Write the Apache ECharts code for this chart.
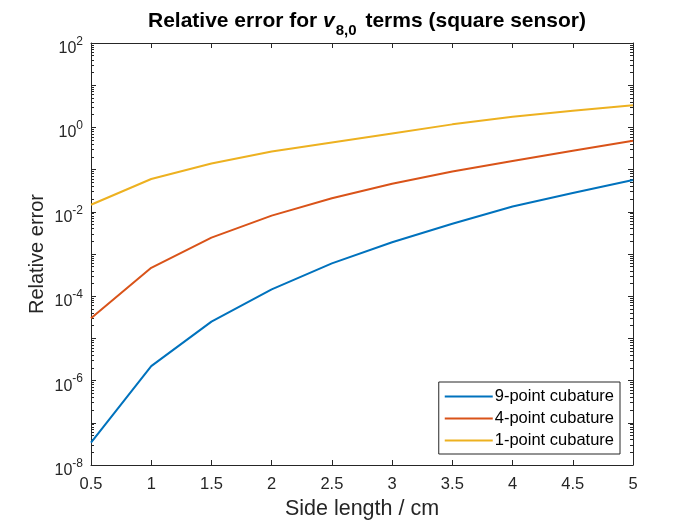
<!DOCTYPE html>
<html>
<head>
<meta charset="utf-8">
<script src="https://cdn.jsdelivr.net/npm/echarts@6/dist/echarts.min.js"></script>
<style>
html,body{margin:0;padding:0;background:#fff;}
#chart{width:700px;height:525px;}
</style>
</head>
<body>
<div id="chart"></div>
<script>
// side length (cm)
var sideLength = [0.5, 1, 1.5, 2, 2.5, 3, 3.5, 4, 4.5, 5];
var seriesNames = ['9-point cubature', '4-point cubature', '1-point cubature'];
// relative error
var err9 = [3.4e-8, 2.2e-6, 2.5e-5, 1.45e-4, 6.0e-4, 1.9e-3, 5.2e-3, 1.34e-2, 2.8e-2, 5.7e-2];
var err4 = [3.0e-5, 4.7e-4, 2.45e-3, 8.1e-3, 2.1e-2, 4.6e-2, 9.0e-2, 0.16, 0.28, 0.48];
var err1 = [1.47e-2, 6.0e-2, 0.14, 0.27, 0.44, 0.72, 1.18, 1.78, 2.47, 3.35];
var xTicks = [0.5, 1, 1.5, 2, 2.5, 3, 3.5, 4, 4.5, 5];
var colors = ['#0072BD', '#D95319', '#EDB120'];

var font = "'Liberation Sans', Arial, sans-serif";
var ink = '#262626';

function pairs(ys){
    var out = [];
    for (var i = 0; i < sideLength.length; i++) {
        out.push([sideLength[i], ys[i]]);
    }
    return out;
}

function xLabel(v){
    return xTicks.indexOf(v) >= 0 ? String(v) : '';
}

function yLabel(v){
    var e = Math.round(Math.log10(v));
    if (e % 2 !== 0) return '';
    return '{b|10}{s|' + e + '}';
}

var chart = echarts.init(document.getElementById('chart'));
var allData = [err9, err4, err1];
var series = [];
for (var k = 0; k < allData.length; k++) {
    series.push({
        name: seriesNames[k],
        type: 'line',
        data: pairs(allData[k]),
        showSymbol: false,
        symbol: 'none',
        lineStyle: {width: 2, color: colors[k]},
        itemStyle: {color: colors[k]},
        animation: false
    });
}

var option = {
    backgroundColor: '#fff',
    animation: false,
    title: {
        text: '{b|Relative error for }{v|v}{s|8,0}{b| terms (square sensor)}',
        left: 362,
        top: 6,
        textAlign: 'center',
        textStyle: {
            rich: {
                b: {fontFamily: font, fontSize: 21, fontWeight: 'bold', color: '#000', verticalAlign: 'top'},
                v: {fontFamily: font, fontSize: 21, fontWeight: 'bold', fontStyle: 'italic', color: '#000', verticalAlign: 'top'},
                s: {fontFamily: font, fontSize: 15, fontWeight: 'bold', color: '#000', verticalAlign: 'top', padding: [12, 3, 0, 1]}
            }
        }
    },
    legend: {
        orient: 'vertical',
        right: 80,
        bottom: 71,
        padding: [6, 6, 5, 6],
        itemGap: 5,
        itemWidth: 48,
        itemHeight: 2,
        borderColor: ink,
        borderWidth: 1,
        backgroundColor: '#fff',
        icon: 'rect',
        textStyle: {fontFamily: font, fontSize: 16.5, color: '#000', padding: [0, 0, 0, -3]},
        data: seriesNames
    },
    grid: {left: 91, right: 67, top: 43, bottom: 59, containLabel: false},
    xAxis: [{
        type: 'value',
        min: 0.5,
        max: 5,
        interval: 0.5,
        name: 'Side length / cm',
        nameLocation: 'middle',
        nameGap: 33,
        nameTextStyle: {fontFamily: font, fontSize: 21.5, color: ink},
        axisLine: {lineStyle: {color: ink, width: 1}},
        axisTick: {inside: true, length: 5, lineStyle: {color: ink}},
        axisLabel: {fontFamily: font, fontSize: 16.5, color: ink, margin: 11, formatter: xLabel},
        splitLine: {show: false}
    }, {
        type: 'value',
        position: 'top',
        min: 0.5,
        max: 5,
        interval: 0.5,
        axisLine: {show: true, lineStyle: {color: ink, width: 1}},
        axisTick: {inside: true, length: 5, lineStyle: {color: ink}},
        axisLabel: {show: false},
        splitLine: {show: false}
    }],
    yAxis: [{
        type: 'log',
        logBase: 10,
        min: 1e-8,
        max: 1e2,
        interval: 1,
        name: 'Relative error',
        nameLocation: 'middle',
        nameGap: 44,
        nameMoveOverlap: false,
        nameTextStyle: {fontFamily: font, fontSize: 20, color: ink},
        axisLine: {show: true, lineStyle: {color: ink, width: 1}},
        axisTick: {inside: true, length: 5, lineStyle: {color: ink}},
        minorTick: {show: true, splitNumber: 9, length: 3, lineStyle: {color: ink}},
        axisLabel: {
            color: ink,
            margin: 8,
            padding: [6, 0, 0, 0],
            formatter: yLabel,
            rich: {
                b: {fontFamily: font, fontSize: 16, color: ink, verticalAlign: 'bottom'},
                s: {fontFamily: font, fontSize: 12, color: ink, verticalAlign: 'bottom', padding: [0, 0, 9, 0]}
            }
        },
        splitLine: {show: false}
    }, {
        type: 'log',
        logBase: 10,
        min: 1e-8,
        max: 1e2,
        interval: 1,
        position: 'right',
        axisLine: {show: true, lineStyle: {color: ink, width: 1}},
        axisTick: {inside: true, length: 5, lineStyle: {color: ink}},
        minorTick: {show: true, splitNumber: 9, length: 3, lineStyle: {color: ink}},
        axisLabel: {show: false},
        splitLine: {show: false}
    }],
    series: series
};
chart.setOption(option);
</script>
</body>
</html>
